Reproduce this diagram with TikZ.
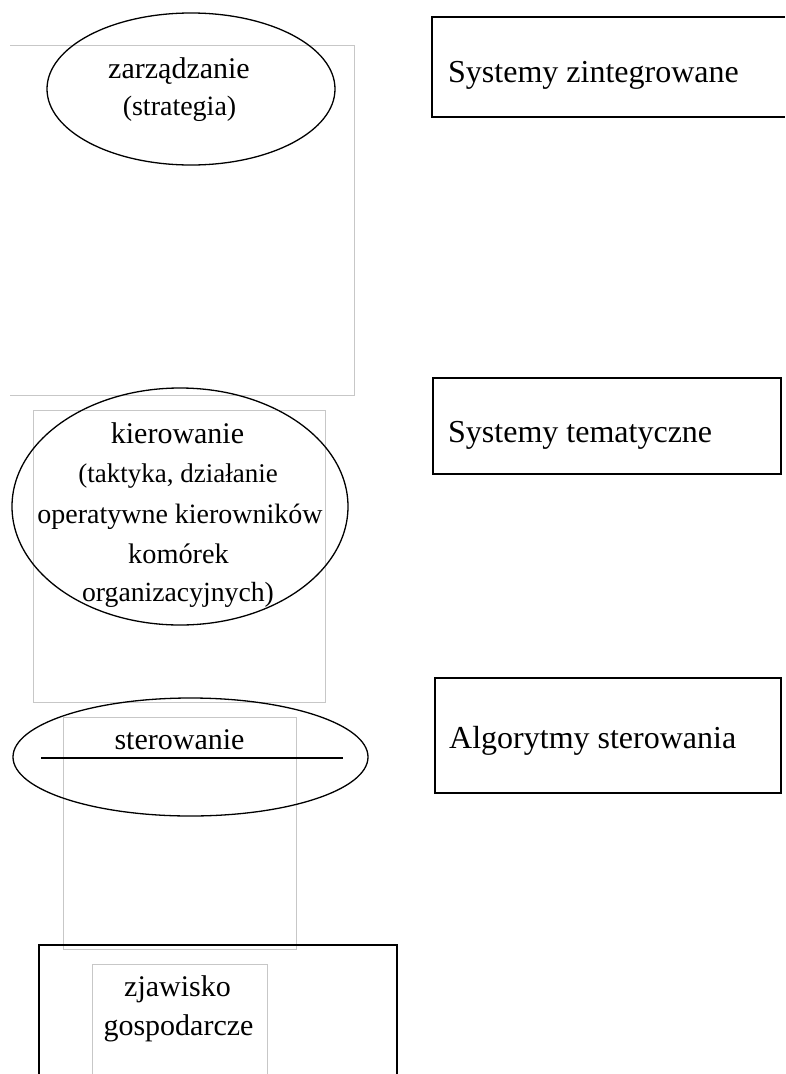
\documentclass[tikz,border=0pt]{standalone}
\usepackage{fontspec}
\setmainfont{Liberation Serif}
\usetikzlibrary{shapes.geometric}
\begin{document}
\begin{tikzpicture}[x=1pt,y=-1pt,
  graybox/.style={draw=black!22,line width=1pt},
  blackbox/.style={draw=black,line width=1.6pt},
  oval/.style={draw=black,line width=1.3pt,ellipse,inner sep=0pt},
  lbl/.style={anchor=base,inner sep=0pt,font=\fontsize{30}{40}\selectfont},
  slbl/.style={anchor=base,inner sep=0pt,font=\fontsize{#1}{40}\selectfont},
  rlbl/.style={anchor=base west,inner sep=0pt,font=\fontsize{32}{40}\selectfont}]
\useasboundingbox (0,0) rectangle (785,1074);
\fill[white] (0,0) rectangle (785,1074);
% gray frames
\draw[graybox] (10,45) -- (354,45) -- (354,395) -- (10,395);
\node[graybox,rectangle,inner sep=0pt,minimum width=292pt,minimum height=292pt] (g2) at (179,556) {};
\node[graybox,rectangle,inner sep=0pt,minimum width=233pt,minimum height=232pt] (g3) at (179.5,833) {};
\draw[graybox] (92,1074) -- (92,964) -- (267,964) -- (267,1074);
% bottom black frame
\draw[blackbox] (39,1074) -- (39,945) -- (397,945) -- (397,1074);
% ellipses
\node[oval,minimum width=288pt,minimum height=152pt] (e1) at (191,89) {};
\node[oval,minimum width=336pt,minimum height=237pt] (e2) at (180,506.5) {};
\node[oval,minimum width=355pt,minimum height=118pt] (e3) at (190.5,757) {};
\coordinate (l1) at (41,758);
\coordinate (l2) at (343,758);
\draw[line width=1.6pt] (l1) -- (l2);
% left texts
\node[lbl] (t1) at (179,78) {zarządzanie};
\node[slbl=28] (t2) at (179.5,115) {(strategia)};
\node[lbl] (k1) at (177.5,443) {kierowanie};
\node[slbl=27] (k2) at (178,482) {(taktyka, działanie};
\node[slbl=28] (k3) at (180,523) {operatywne kierowników};
\node[slbl=28.3] (k4) at (178.5,563) {komórek};
\node[slbl=27.7] (k5) at (178,601) {organizacyjnych)};
\node[lbl] (s1) at (179.5,749) {sterowanie};
\node[lbl] (z1) at (177.5,996) {zjawisko};
\node[lbl] (z2) at (178.5,1035) {gospodarcze};
% right boxes
\draw[blackbox] (785,17) -- (432,17) -- (432,117) -- (785,117);
\node[blackbox,rectangle,inner sep=0pt,minimum width=348pt,minimum height=96pt] (b2) at (607,426) {};
\node[blackbox,rectangle,inner sep=0pt,minimum width=346pt,minimum height=115pt] (b3) at (608,735.5) {};
\node[rlbl] (r1) at (448,82) {Systemy zintegrowane};
\node[rlbl] (r2) at (448,442) {Systemy tematyczne};
\node[rlbl] (r3) at (449,748) {Algorytmy sterowania};
\end{tikzpicture}
\end{document}
